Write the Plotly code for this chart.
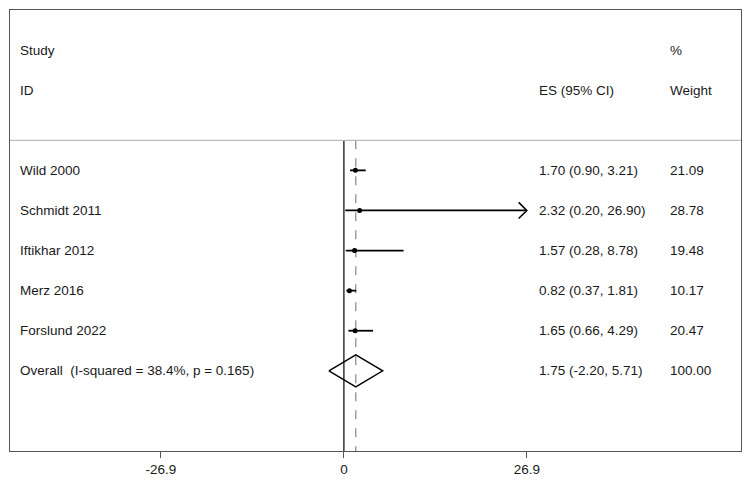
import plotly.graph_objects as go

studies = ["Wild 2000", "Schmidt 2011", "Iftikhar 2012", "Merz 2016", "Forslund 2022"]
es = [1.70, 2.32, 1.57, 0.82, 1.65]
ci_low = [0.90, 0.20, 0.28, 0.37, 0.66]
ci_high = [3.21, 26.90, 8.78, 1.81, 4.29]
weights = [21.09, 28.78, 19.48, 10.17, 20.47]

overall_label = "Overall  (I-squared = 38.4%, p = 0.165)"
overall_es = 1.75
overall_low = -2.20
overall_high = 5.71
overall_weight = 100.00

tick_vals = [-26.9, 0, 26.9]
tick_text = ["-26.9", "0", "26.9"]
axis_max = 26.9

FONT = dict(family="Liberation Sans, Arial, sans-serif", size=13.5, color="#1a1a1a")
FRAME = "#555555"

rows = list(range(1, len(studies) + 1))
overall_row = len(studies) + 1

fig = go.Figure()

# confidence intervals, clipped at the axis maximum with an open arrow head
for y, lo, hi in zip(rows, ci_low, ci_high):
    hi_c = min(hi, axis_max)
    fig.add_trace(go.Scatter(x=[lo, hi_c], y=[y, y], mode="lines",
                             line=dict(color="black", width=1.8),
                             showlegend=False, hoverinfo="skip"))
    if hi >= axis_max:
        fig.add_trace(go.Scatter(x=[hi_c - 1.2, hi_c, hi_c - 1.2],
                                 y=[y - 0.2, y, y + 0.2], mode="lines",
                                 line=dict(color="black", width=1.6),
                                 showlegend=False, hoverinfo="skip"))

# point estimates
fig.add_trace(go.Scatter(x=es, y=rows, mode="markers",
                         marker=dict(color="black", size=5),
                         showlegend=False))

# overall diamond
fig.add_trace(go.Scatter(
    x=[overall_low, overall_es, overall_high, overall_es, overall_low],
    y=[overall_row, overall_row - 0.4, overall_row, overall_row + 0.4, overall_row],
    mode="lines", line=dict(color="black", width=1.4),
    showlegend=False, hoverinfo="skip"))

# no-effect line and overall dashed line
fig.add_shape(type="line", x0=0, x1=0, y0=0.25, y1=8,
              line=dict(color="#333333", width=1.5), layer="below")
fig.add_shape(type="line", x0=overall_es, x1=overall_es, y0=0.25, y1=8,
              line=dict(color="#888888", width=1.2, dash="dash"), layer="below")
# header separator
fig.add_shape(type="line", xref="paper", x0=0, x1=1, y0=0.25, y1=0.25,
              line=dict(color="#bbbbbb", width=1.2))

# column text
ann = []
ann.append(dict(x=0.011, y=-2, text="Study"))
ann.append(dict(x=0.011, y=-1, text="ID"))
ann.append(dict(x=0.721, y=-1, text="ES (95% CI)"))
ann.append(dict(x=0.900, y=-2, text="%"))
ann.append(dict(x=0.900, y=-1, text="Weight"))
for y, name, e, lo, hi, w in zip(rows, studies, es, ci_low, ci_high, weights):
    ann.append(dict(x=0.011, y=y, text=name))
    ann.append(dict(x=0.721, y=y, text=f"{e:.2f} ({lo:.2f}, {hi:.2f})"))
    ann.append(dict(x=0.900, y=y, text=f"{w:.2f}"))
ann.append(dict(x=0.011, y=overall_row, text=overall_label))
ann.append(dict(x=0.721, y=overall_row,
                text=f"{overall_es:.2f} ({overall_low:.2f}, {overall_high:.2f})"))
ann.append(dict(x=0.900, y=overall_row, text=f"{overall_weight:.2f}"))
for a in ann:
    fig.add_annotation(xref="paper", yref="y", xanchor="left", yanchor="middle",
                       showarrow=False, font=FONT, **a)

fig.update_xaxes(range=[-49.1, 58.4], tickvals=tick_vals, ticktext=tick_text,
                 ticks="outside", ticklen=6, tickcolor=FRAME, tickwidth=1.2,
                 showline=True, linecolor=FRAME, linewidth=1.3, mirror=True,
                 showgrid=False, zeroline=False, tickfont=FONT, automargin=False)
fig.update_yaxes(range=[8, -3], showticklabels=False, ticks="",
                 showline=True, linecolor=FRAME, linewidth=1.3, mirror=True,
                 showgrid=False, zeroline=False, automargin=False)

# the page body adds an 8px offset, so the figure is a bit smaller than the window
fig.update_layout(width=742, height=474,
                  margin=dict(l=2, r=9, t=2, b=31, autoexpand=False),
                  plot_bgcolor="white", paper_bgcolor="white",
                  font=FONT)

fig.write_html("out.html")
